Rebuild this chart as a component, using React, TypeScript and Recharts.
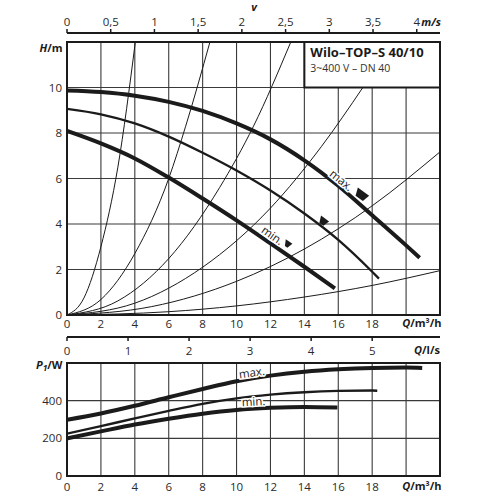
import React from 'react';
import {
  ComposedChart,
  Line,
  XAxis,
  YAxis,
  CartesianGrid,
  ReferenceArea,
  ReferenceDot,
} from 'recharts';

// ---------- axis ticks ----------
const qTicks = [0, 2, 4, 6, 8, 10, 12, 14, 16, 18, 20, 22];
const qLabelMax = 18;
const hTicks = [0, 2, 4, 6, 8, 10, 12];
const hLabelMax = 10;
const vTicks = [0, 0.5, 1, 1.5, 2, 2.5, 3, 3.5, 4];
const lsTicks = [0, 1, 2, 3, 4, 5];
const pTicks = [0, 200, 400, 600];
const pLabelMax = 400;

// ---------- head curves (Q m³/h, H m) ----------
const headMax = [
  { q: 0, h: 9.87 }, { q: 2, h: 9.8 }, { q: 4, h: 9.64 }, { q: 6, h: 9.37 },
  { q: 8, h: 8.97 }, { q: 10, h: 8.42 }, { q: 12, h: 7.72 }, { q: 14, h: 6.8 },
  { q: 16, h: 5.68 }, { q: 18, h: 4.38 }, { q: 20, h: 3.06 }, { q: 20.8, h: 2.52 },
];
const headMid = [
  { q: 0, h: 9.06 }, { q: 2, h: 8.82 }, { q: 4, h: 8.42 }, { q: 6, h: 7.84 },
  { q: 8, h: 7.13 }, { q: 10, h: 6.35 }, { q: 12, h: 5.47 }, { q: 14, h: 4.46 },
  { q: 16, h: 3.3 }, { q: 18, h: 1.9 }, { q: 18.4, h: 1.6 },
];
const headMin = [
  { q: 0, h: 8.09 }, { q: 2, h: 7.54 }, { q: 4, h: 6.88 }, { q: 6, h: 6.04 },
  { q: 8, h: 5.12 }, { q: 10, h: 4.16 }, { q: 12, h: 3.15 }, { q: 14, h: 2.12 },
  { q: 15.8, h: 1.17 },
];

// ---------- system curves ----------
const sys1 = [{ q: 0, h: 0 }, { q: 1, h: 0.75 }, { q: 2, h: 3.0 }, { q: 3, h: 6.5 }, { q: 4.03, h: 12 }];
const sys2 = [{ q: 0, h: 0 }, { q: 2, h: 0.68 }, { q: 4, h: 2.7 }, { q: 6, h: 6.0 }, { q: 7, h: 8.3 }, { q: 8.43, h: 12 }];
const sys3 = [{ q: 0, h: 0 }, { q: 3, h: 0.62 }, { q: 6, h: 2.48 }, { q: 9, h: 5.6 }, { q: 11, h: 8.3 }, { q: 13.2, h: 12 }];
const sys4 = [{ q: 0, h: 0 }, { q: 4, h: 0.52 }, { q: 8, h: 2.1 }, { q: 12, h: 4.7 }, { q: 15, h: 7.4 }, { q: 17.45, h: 10 }];
const sys5 = [{ q: 0, h: 0 }, { q: 5, h: 0.37 }, { q: 10, h: 1.48 }, { q: 14, h: 2.9 }, { q: 18, h: 4.8 }, { q: 22, h: 7.17 }];
const sys6 = [{ q: 0, h: 0 }, { q: 6, h: 0.145 }, { q: 10, h: 0.4 }, { q: 14, h: 0.79 }, { q: 18, h: 1.3 }, { q: 22, h: 1.95 }];
const systemCurves = [sys1, sys2, sys3, sys4, sys5, sys6];

// efficiency markers and curve labels
const effMax = { q: 17.35, h: 5.28 };
const effMid = { q: 15.1, h: 4.12 };
const effMin = { q: 13.0, h: 3.12 };
const lblMaxH = { q: 16.2, h: 5.93, text: 'max.' };
const lblMinH = { q: 12.13, h: 3.51, text: 'min.' };

// ---------- power curves (Q m³/h, P1 W) ----------
const powerMax = [
  { q: 0, p: 299 }, { q: 2, p: 332 }, { q: 4, p: 373 }, { q: 6, p: 418 },
  { q: 8, p: 462 }, { q: 10, p: 503 }, { q: 12, p: 533 }, { q: 14, p: 554 },
  { q: 16, p: 567 }, { q: 18, p: 574 }, { q: 20, p: 576 }, { q: 20.95, p: 574 },
];
const powerMid = [
  { q: 0, p: 225 }, { q: 2, p: 265 }, { q: 4, p: 306 }, { q: 6, p: 346 },
  { q: 8, p: 383 }, { q: 10, p: 412 }, { q: 12, p: 432 }, { q: 14, p: 445 },
  { q: 16, p: 452 }, { q: 18, p: 454 }, { q: 18.3, p: 453 },
];
const powerMin = [
  { q: 0, p: 200 }, { q: 2, p: 237 }, { q: 4, p: 273 }, { q: 6, p: 304 },
  { q: 8, p: 331 }, { q: 10, p: 351 }, { q: 12, p: 362 }, { q: 14, p: 367 },
  { q: 15.95, p: 364 },
];
const lblMaxP = { q: 10.9, p: 551, text: 'max.' };
const lblMinP = { q: 11.0, p: 397, text: 'min.' };

const legendTitle = 'Wilo–TOP–S 40/10';
const legendSub = '3~400 V – DN 40';

// ---------- styling ----------
const FONT = '"Open Sans", "DejaVu Sans", sans-serif';
const INK = '#1b1b1b';
const GRID = '#3a3a3a';
const TICK_FS = 11.5;
const Q_MAX = 22;
const V_MAX = 4.266;
const LS_MAX = 22 / 3.6;

const tickStyle = { fill: '#2a2a2a', fontSize: TICK_FS, fontFamily: FONT };
const comma = (v: number) => String(v).replace('.', ',');

const markerShape = (len: number, thick: number, angle: number) => (p: any) => {
  const { cx, cy } = p;
  const l = len / 2;
  const t = thick / 2;
  const pts = `${-l},${-t} ${l},${-t} ${l - 2},${t} ${-l + 3},${t}`;
  return (
    <polygon
      points={pts}
      fill={INK}
      transform={`translate(${cx} ${cy}) rotate(${angle})`}
    />
  );
};

const textShape = (text: string, angle: number) => (p: any) => {
  const { cx, cy } = p;
  return (
    <text
      x={cx}
      y={cy}
      textAnchor="middle"
      dominantBaseline="central"
      fontFamily={FONT}
      fontSize={11.5}
      fill={INK}
      stroke="#fff"
      strokeWidth={3}
      paintOrder="stroke"
      transform={`rotate(${angle} ${cx} ${cy})`}
    >
      {text}
    </text>
  );
};

const titleStyle = { fontFamily: FONT, fontWeight: 700, fontSize: 11, fill: INK } as const;

const qAxisTitle = (p: any) => {
  const { x, y, width } = p.viewBox;
  return (
    <text x={x + width + 1.5} y={y + 12} textAnchor="end" style={titleStyle}>
      <tspan fontStyle="italic">Q</tspan>/m³/h
    </text>
  );
};
const qAxisTitleBottom = (p: any) => {
  const { x, y, width } = p.viewBox;
  return (
    <text x={x + width + 1.5} y={y + 14} textAnchor="end" style={titleStyle}>
      <tspan fontStyle="italic">Q</tspan>/m³/h
    </text>
  );
};
const lsAxisTitle = (p: any) => {
  const { x, y, width } = p.viewBox;
  return (
    <text x={x + width} y={y + 16.5} textAnchor="end" style={titleStyle}>
      <tspan fontStyle="italic">Q</tspan>/l/s
    </text>
  );
};
const vAxisTitle = (p: any) => {
  const { x, y, width } = p.viewBox;
  return (
    <g>
      <text x={x + width + 1} y={y + 25.5} textAnchor="end" style={titleStyle}>
        <tspan fontStyle="italic">m/s</tspan>
      </text>
      <text x={x + width / 2 + 0.5} y={y + 10.5} textAnchor="middle" style={titleStyle}>
        <tspan fontStyle="italic">v</tspan>
      </text>
    </g>
  );
};
const hAxisTitle = (p: any) => {
  const { x, y, width } = p.viewBox;
  return (
    <text x={x + width - 4.5} y={y + 10} textAnchor="end" style={titleStyle}>
      <tspan fontStyle="italic">H</tspan>/m
    </text>
  );
};
const pAxisTitle = (p: any) => {
  const { x, y, width } = p.viewBox;
  return (
    <text x={x + width - 4.5} y={y + 6} textAnchor="end" style={titleStyle}>
      <tspan fontStyle="italic">P</tspan>
      <tspan fontStyle="italic" fontSize={8.5} dy={2}>1</tspan>
      <tspan dy={-2}>/W</tspan>
    </text>
  );
};
const legendContent = (p: any) => {
  const { x, y } = p.viewBox;
  return (
    <g>
      <text x={x + 6} y={y + 15} fontFamily={FONT} fontWeight={700} fontSize={13} fill={INK}>
        {legendTitle}
      </text>
      <text x={x + 6} y={y + 29.5} fontFamily={FONT} fontSize={10.5} fill="#333">
        {legendSub}
      </text>
    </g>
  );
};

const lineProps = {
  type: 'monotone' as const,
  dot: false,
  activeDot: false,
  isAnimationActive: false,
  stroke: INK,
  dataKey: 'h',
};

export default function App() {
  return (
    <div
      style={{
        position: 'absolute',
        left: 0,
        top: 0,
        width: 500,
        height: 500,
        background: '#fff',
        fontFamily: FONT,
      }}
    >
      {/* velocity axis */}
      <div style={{ position: 'absolute', left: 0, top: 0 }}>
        <ComposedChart
          width={500}
          height={34}
          data={vTicks.map((v) => ({ v }))}
          margin={{ top: 0, right: 60, left: 67, bottom: 0 }}
        >
          <XAxis
            dataKey="v"
            type="number"
            orientation="top"
            domain={[0, V_MAX]}
            ticks={vTicks}
            interval={0}
            allowDataOverflow
            height={33}
            tickSize={4}
            tickMargin={3}
            tickFormatter={comma}
            tick={tickStyle}
            axisLine={{ stroke: INK, strokeWidth: 2 }}
            tickLine={{ stroke: INK, strokeWidth: 1.5 }}
            label={vAxisTitle}
          />
          <YAxis hide domain={[0, 1]} />
        </ComposedChart>
      </div>

      {/* head chart */}
      <div style={{ position: 'absolute', left: 0, top: 0 }}>
        <ComposedChart
          width={500}
          height={362}
          data={lsTicks.map((l) => ({ l }))}
          margin={{ top: 42, right: 60, left: 0, bottom: 0 }}
        >
          <CartesianGrid stroke={GRID} strokeWidth={1.1} />
          <XAxis
            dataKey="q"
            type="number"
            domain={[0, Q_MAX]}
            ticks={qTicks}
            interval={0}
            allowDataOverflow
            height={22}
            axisLine={false}
            tickLine={false}
            tickSize={5}
            tickMargin={0}
            tick={tickStyle}
            tickFormatter={(v: number) => (v <= qLabelMax ? String(v) : '')}
            label={qAxisTitle}
          />
          <XAxis
            xAxisId="ls"
            dataKey="l"
            type="number"
            domain={[0, LS_MAX]}
            ticks={lsTicks}
            interval={0}
            allowDataOverflow
            height={25}
            tickSize={4}
            tickMargin={6}
            tick={tickStyle}
            axisLine={{ stroke: INK, strokeWidth: 2 }}
            tickLine={{ stroke: INK, strokeWidth: 1.5 }}
            label={lsAxisTitle}
          />
          <YAxis
            type="number"
            domain={[0, 12]}
            ticks={hTicks}
            interval={0}
            allowDataOverflow
            width={67}
            axisLine={false}
            tickLine={false}
            tickSize={0}
            tickMargin={5}
            tick={tickStyle}
            tickFormatter={(v: number) => (v <= hLabelMax ? String(v) : '')}
            label={hAxisTitle}
          />
          {systemCurves.map((d, i) => (
            <Line key={`s${i}`} {...lineProps} data={d} strokeWidth={1} />
          ))}
          <Line {...lineProps} data={headMax} strokeWidth={4} />
          <Line {...lineProps} data={headMid} strokeWidth={2.3} />
          <Line {...lineProps} data={headMin} strokeWidth={4} />
          <ReferenceDot x={effMax.q} y={effMax.h} shape={markerShape(14, 8, 36)} />
          <ReferenceDot x={effMid.q} y={effMid.h} shape={markerShape(10, 7, 36)} />
          <ReferenceDot x={effMin.q} y={effMin.h} shape={markerShape(8, 6, 34)} />
          <ReferenceDot x={lblMaxH.q} y={lblMaxH.h} shape={textShape(lblMaxH.text, 39)} />
          <ReferenceDot x={lblMinH.q} y={lblMinH.h} shape={textShape(lblMinH.text, 35)} />
          <ReferenceArea
            x1={14}
            x2={22}
            y1={10}
            y2={12}
            fill="#fff"
            fillOpacity={1}
            stroke={INK}
            strokeWidth={2}
            label={legendContent}
          />
          <ReferenceArea x1={0} x2={22} y1={0} y2={12} fill="none" stroke={INK} strokeWidth={2} />
        </ComposedChart>
      </div>

      {/* power chart */}
      <div style={{ position: 'absolute', left: 0, top: 350 }}>
        <ComposedChart width={500} height={150} margin={{ top: 13, right: 60, left: 0, bottom: 0 }}>
          <CartesianGrid stroke={GRID} strokeWidth={1.1} />
          <XAxis
            dataKey="q"
            type="number"
            domain={[0, Q_MAX]}
            ticks={qTicks}
            interval={0}
            allowDataOverflow
            height={24}
            axisLine={false}
            tickLine={false}
            tickSize={7}
            tickMargin={0}
            tick={tickStyle}
            tickFormatter={(v: number) => (v <= qLabelMax ? String(v) : '')}
            label={qAxisTitleBottom}
          />
          <YAxis
            type="number"
            domain={[0, 600]}
            ticks={pTicks}
            interval={0}
            allowDataOverflow
            width={67}
            axisLine={false}
            tickLine={false}
            tickSize={0}
            tickMargin={5}
            tick={tickStyle}
            tickFormatter={(v: number) => (v <= pLabelMax ? String(v) : '')}
            label={pAxisTitle}
          />
          <Line {...lineProps} dataKey="p" data={powerMax} strokeWidth={4} />
          <Line {...lineProps} dataKey="p" data={powerMid} strokeWidth={2.4} />
          <Line {...lineProps} dataKey="p" data={powerMin} strokeWidth={4} />
          <ReferenceDot x={lblMaxP.q} y={lblMaxP.p} shape={textShape(lblMaxP.text, -8)} />
          <ReferenceDot x={lblMinP.q} y={lblMinP.p} shape={textShape(lblMinP.text, -3)} />
          <ReferenceArea x1={0} x2={22} y1={0} y2={600} fill="none" stroke={INK} strokeWidth={2} />
        </ComposedChart>
      </div>
    </div>
  );
}
